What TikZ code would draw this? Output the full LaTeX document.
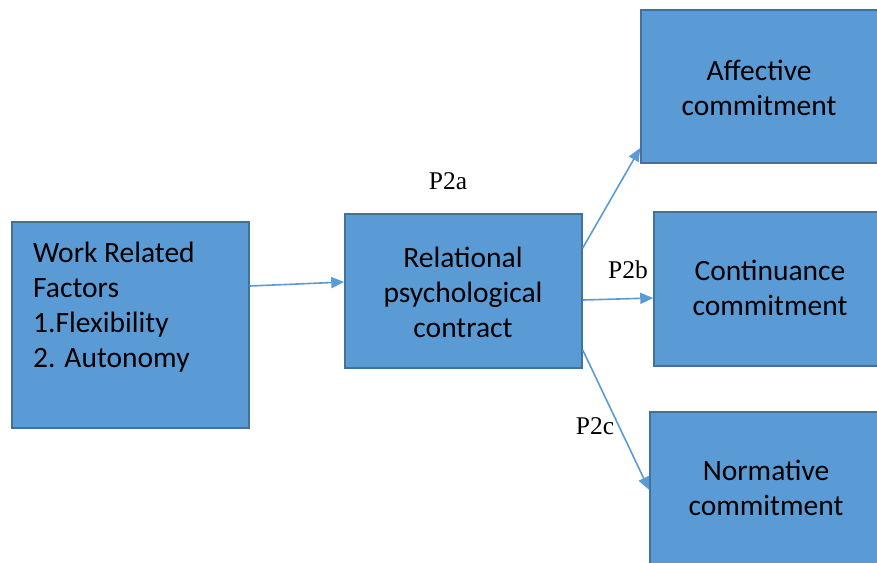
\documentclass[tikz,border=0pt]{standalone}
\usepackage{fontspec}
\setmainfont{Carlito}
\newfontfamily\serifP{Liberation Serif}
\usetikzlibrary{arrows.meta}
\definecolor{boxfill}{HTML}{5B9BD5}
\definecolor{boxline}{HTML}{41719C}
\definecolor{arrowc}{HTML}{5B9BD5}
\tikzset{
  bx/.style={draw=boxline, fill=boxfill, line width=1.5pt, rectangle, inner sep=0pt},
  txt/.style={font=\fontsize{29.5}{35}\selectfont, text=black, inner sep=0pt},
  plab/.style={font=\serifP\fontsize{25.5}{28}\selectfont, inner sep=0pt},
  arr/.style={draw=arrowc, line width=1.6pt, -{Triangle[length=13pt,width=11pt]}}
}
\begin{document}
\begin{tikzpicture}[x=1pt,y=-1pt]
\useasboundingbox (0,0) rectangle (877,562);
\node[bx, minimum width=237pt, minimum height=206pt] (b1) at (130.5,325) {};
\node[bx, minimum width=237pt, minimum height=154pt] (b2) at (463.5,291) {};
\node[bx, minimum width=245pt, minimum height=153pt] (b3) at (763.5,86.5) {};
\node[bx, minimum width=232pt, minimum height=154pt] (b4) at (770,289) {};
\node[bx, minimum width=236pt, minimum height=188pt] (b5) at (768,506) {};
\node[txt, align=left, anchor=west] (t1) at (33,307.5) {Work Related\\Factors\\1.Flexibility\\2. Autonomy};
\node[txt, align=center] (t2) at (463,292.5) {Relational\\psychological\\contract};
\node[txt, align=center] (t3) at (759,87.5) {Affective\\commitment};
\node[txt, align=center] (t4) at (770,288) {Continuance\\commitment};
\node[txt, align=center] (t5) at (766,488) {Normative\\commitment};
\node[plab] (p2a) at (448,181) {P2a};
\node[plab] (p2b) at (628,270) {P2b};
\node[plab] (p2c) at (595,426) {P2c};
\draw[arr] ([yshift=39pt]b1.east) -- ([yshift=9pt]b2.west);
\draw[arr] ([yshift=43pt]b2.east) -- ([yshift=-61.5pt]b3.west);
\draw[arr] ([yshift=-9pt]b2.east) -- ([yshift=-9pt]b4.west);
\draw[arr] ([yshift=-59pt]b2.east) -- ([yshift=16pt]b5.west);
\end{tikzpicture}
\end{document}
